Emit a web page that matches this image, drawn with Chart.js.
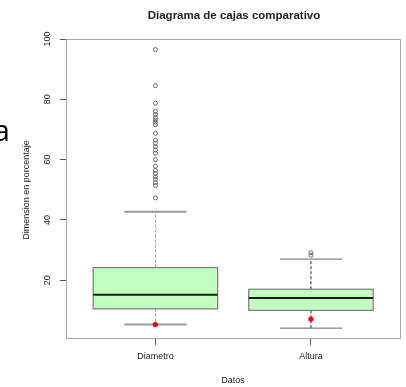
<!DOCTYPE html>
<html>
<head>
<meta charset="utf-8">
<script src="https://cdn.jsdelivr.net/npm/chart.js@4/dist/chart.umd.min.js"></script>
<style>
  html, body { margin: 0; padding: 0; background: #fff; }
  canvas { display: block; }
</style>
</head>
<body>
<canvas id="c" width="406" height="387"></canvas>
<script>
// Groups shown on the x axis
const categories = ['Diametro', 'Altura'];

// Five-number summaries per group: lower whisker, Q1, median, Q3, upper whisker
const lowerWhisker = [5.3, 4.1];
const q1 = [10.5, 10.0];
const medians = [15.2, 14.1];
const q3 = [24.2, 17.0];
const upperWhisker = [42.7, 27.0];

// Means (red points)
const means = [5.3, 7.1];

// Outlying observations per group
const diametroOutliers = [96.5, 84.5, 78.7, 76.0, 75.0, 74.0, 73.2, 72.4, 71.6, 68.7,
  66.5, 65.4, 64.3, 63.2, 62.1, 60.0, 57.8, 56.4, 55.4, 54.3, 53.5, 52.4, 51.4, 47.3];
const alturaOutliers = [28.3, 29.1];

// Y axis ticks
const yTicks = [20, 40, 60, 80, 100];

const titleText = 'Diagrama de cajas comparativo';
const xTitle = 'Datos';
const yTitle = 'Dimension en porcentaje';

// Per-group whisker styling
const whiskerColors = ['#9a9a9a', '#222222'];
const stapleColors = ['#9a9a9a', '#666666'];
const stapleWidths = [2, 1];

const outlierPoints = [];
diametroOutliers.forEach(v => outlierPoints.push({ x: 1, y: v }));
alturaOutliers.forEach(v => outlierPoints.push({ x: 2, y: v }));
const meanPoints = means.map((v, i) => ({ x: i + 1, y: v }));

const BOX_HALF = 0.4;
const STAPLE_HALF = 0.2;

const boxPlugin = {
  id: 'boxes',
  beforeDatasetsDraw(chart) {
    const ctx = chart.ctx;
    const xs = chart.scales.x, ys = chart.scales.y;
    ctx.save();
    categories.forEach((c, i) => {
      const pos = i + 1;
      const xc = xs.getPixelForValue(pos);
      const xl = xs.getPixelForValue(pos - BOX_HALF);
      const xr = xs.getPixelForValue(pos + BOX_HALF);
      const sl = xs.getPixelForValue(pos - STAPLE_HALF);
      const sr = xs.getPixelForValue(pos + STAPLE_HALF);
      const yq1 = ys.getPixelForValue(q1[i]);
      const yq3 = ys.getPixelForValue(q3[i]);
      const ymed = ys.getPixelForValue(medians[i]);
      const ylo = ys.getPixelForValue(lowerWhisker[i]);
      const yhi = ys.getPixelForValue(upperWhisker[i]);

      // dashed whiskers
      ctx.strokeStyle = whiskerColors[i];
      ctx.lineWidth = 1;
      ctx.setLineDash([3, 2]);
      ctx.beginPath();
      ctx.moveTo(xc, yq3); ctx.lineTo(xc, yhi);
      ctx.moveTo(xc, yq1); ctx.lineTo(xc, ylo);
      ctx.stroke();
      ctx.setLineDash([]);

      // staples
      ctx.strokeStyle = stapleColors[i];
      ctx.lineWidth = stapleWidths[i];
      ctx.beginPath();
      ctx.moveTo(sl, yhi); ctx.lineTo(sr, yhi);
      ctx.moveTo(sl, ylo); ctx.lineTo(sr, ylo);
      ctx.stroke();

      // box
      ctx.fillStyle = '#C1FFC1';
      ctx.fillRect(xl, yq3, xr - xl, yq1 - yq3);
      ctx.strokeStyle = '#7a7a7a';
      ctx.lineWidth = 1.2;
      ctx.strokeRect(xl, yq3, xr - xl, yq1 - yq3);

      // median
      ctx.strokeStyle = '#1a1a1a';
      ctx.lineWidth = 2;
      ctx.beginPath();
      ctx.moveTo(xl, ymed); ctx.lineTo(xr, ymed);
      ctx.stroke();
    });
    ctx.restore();
  },
  afterDraw(chart) {
    const ctx = chart.ctx;
    const a = chart.chartArea;
    const xs = chart.scales.x, ys = chart.scales.y;
    ctx.save();
    // frame
    ctx.strokeStyle = '#a8a8a8';
    ctx.lineWidth = 1;
    ctx.strokeRect(a.left + 0.5, a.top + 0.5, a.right - a.left - 1, a.bottom - a.top - 1);

    ctx.fillStyle = '#222';
    ctx.textAlign = 'center';
    ctx.textBaseline = 'middle';

    // title
    ctx.font = 'bold 11.5px "Liberation Sans", Arial, sans-serif';
    ctx.fillText(titleText, 234, 16);

    // x tick labels and x title
    ctx.font = '9px "Liberation Sans", Arial, sans-serif';
    categories.forEach((c, i) => {
      ctx.fillText(c, xs.getPixelForValue(i + 1), 357);
    });
    ctx.fillText(xTitle, 233, 381);

    // y tick labels, rotated
    yTicks.forEach(t => {
      ctx.save();
      ctx.translate(48, ys.getPixelForValue(t));
      ctx.rotate(-Math.PI / 2);
      ctx.fillText(String(t), 0, 0);
      ctx.restore();
    });
    // y title
    ctx.save();
    ctx.translate(27, 190);
    ctx.rotate(-Math.PI / 2);
    ctx.fillText(yTitle, 0, 0);
    ctx.restore();

    // slide letter at the left edge
    ctx.fillStyle = '#000';
    ctx.textAlign = 'right';
    ctx.textBaseline = 'alphabetic';
    ctx.font = '30px "Open Sans", sans-serif';
    ctx.fillText('a', 10, 141);
    ctx.restore();
  }
};

new Chart(document.getElementById('c'), {
  type: 'scatter',
  data: {
    datasets: [
      {
        data: outlierPoints,
        pointStyle: 'circle',
        pointRadius: 2,
        pointBorderWidth: 1,
        pointBorderColor: '#666',
        pointBackgroundColor: 'rgba(255,255,255,0)'
      },
      {
        data: meanPoints,
        pointStyle: 'circle',
        pointRadius: 2.6,
        pointBorderWidth: 0,
        pointBackgroundColor: '#ff0000'
      }
    ]
  },
  options: {
    responsive: false,
    animation: false,
    events: [],
    layout: { padding: { top: 39, right: 4, left: 0, bottom: 0 } },
    plugins: { legend: { display: false }, tooltip: { enabled: false }, title: { display: false } },
    scales: {
      x: {
        type: 'linear',
        min: 0.425,
        max: 2.579,
        afterBuildTicks: s => { s.ticks = categories.map((c, i) => ({ value: i + 1 })); },
        afterFit: s => { s.height = 48; },
        ticks: { display: false },
        border: { display: false },
        grid: { drawOnChartArea: false, drawTicks: true, tickLength: 6, color: '#555', lineWidth: 1 }
      },
      y: {
        type: 'linear',
        min: 0.5,
        max: 100,
        afterBuildTicks: s => { s.ticks = yTicks.map(v => ({ value: v })); },
        afterFit: s => { s.width = 66; },
        ticks: { display: false },
        border: { display: false },
        grid: { drawOnChartArea: false, drawTicks: true, tickLength: 6, color: '#555', lineWidth: 1 }
      }
    }
  },
  plugins: [boxPlugin]
});
</script>
</body>
</html>
